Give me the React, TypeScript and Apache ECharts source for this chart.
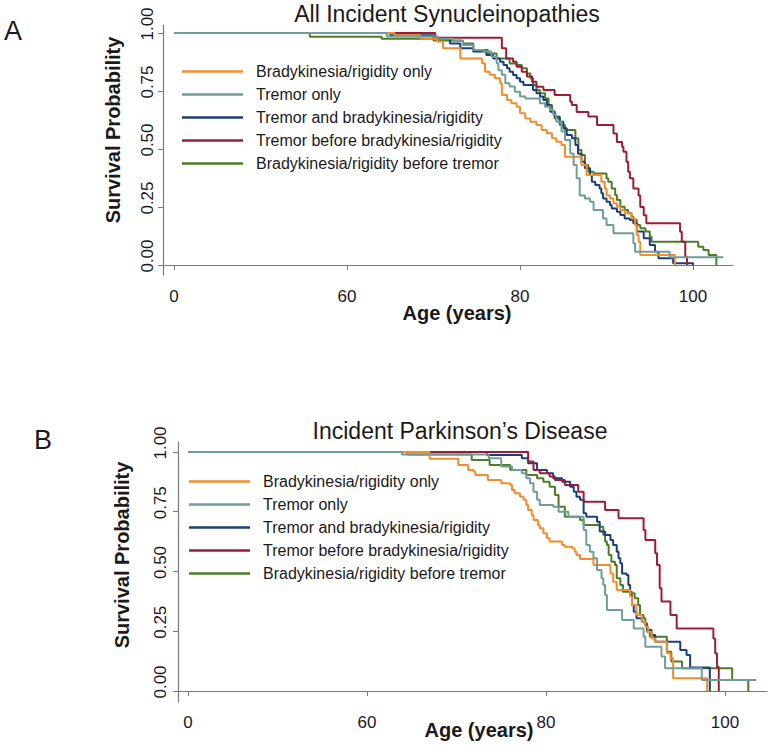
import React, { useEffect, useRef } from "react";
import * as echarts from "echarts";

// ---------- labels ----------
const SERIES_NAMES = [
  "Bradykinesia/rigidity only",
  "Tremor only",
  "Tremor and bradykinesia/rigidity",
  "Tremor before bradykinesia/rigidity",
  "Bradykinesia/rigidity before tremor",
];
const COLORS = ["#F28E2B", "#6F9E98", "#1C3F7C", "#9B1D36", "#4E7D27"];
const DRAW_ORDER = [4, 5, 2, 3, 1]; // z per series (teal on top, as in the original)
const TITLE_A = "All Incident Synucleinopathies";
const TITLE_B = "Incident Parkinson\u2019s Disease";
const X_NAME = "Age (years)";
const Y_NAME = "Survival Probability";

// ---------- ticks ----------
const X_TICKS = [0, 60, 80, 100];
const Y_TICKS = [0, 0.25, 0.5, 0.75, 1];
// the axis is broken: the "0" tick stands where 40 would be on a continuous scale
const AXIS_ORIGIN = 40;

// ---------- Panel A: All incident synucleinopathies  [age, survival] ----------
const A_BR_ONLY = [[0,1],[65.5,0.99],[68.5,0.975],[70.4,0.963],[71.1,0.934],[73.1,0.89],[75.6,0.87],[75.95,0.833],[76.5,0.82],[77.1,0.805],[77.7,0.783],[77.9,0.733],[78.5,0.711],[79.0,0.697],[79.6,0.682],[80.0,0.654],[80.6,0.632],[81.2,0.618],[81.9,0.603],[82.5,0.582],[83.1,0.568],[83.7,0.546],[84.2,0.531],[84.8,0.517],[85.2,0.467],[87.1,0.431],[87.7,0.388],[89.4,0.359],[89.8,0.33],[90.0,0.30],[90.4,0.287],[90.8,0.266],[91.2,0.251],[91.6,0.237],[92.1,0.223],[92.9,0.201],[93.3,0.172],[93.5,0.129],[93.7,0.10],[93.9,0.043],[97.9,0]];
const A_TREMOR_ONLY = [[0,1],[64.6,0.985],[70.5,0.975],[72.3,0.966],[73.4,0.948],[74.6,0.927],[75.8,0.92],[76.7,0.898],[77.3,0.87],[77.5,0.84],[77.9,0.82],[78.3,0.783],[78.8,0.769],[79.4,0.747],[80.0,0.726],[80.6,0.718],[82.3,0.697],[82.9,0.682],[83.5,0.668],[83.85,0.647],[84.2,0.618],[84.8,0.575],[85.2,0.539],[85.8,0.481],[86.2,0.431],[86.55,0.374],[86.9,0.30],[87.5,0.287],[88.1,0.273],[88.5,0.237],[89.6,0.201],[90.0,0.172],[90.8,0.137],[93.1,0.094],[93.3,0.057],[97.3,0.033],[103.5,0.033]];
const A_TREMOR_AND = [[0,1],[65,0.99],[70,0.975],[71.9,0.955],[73.1,0.934],[74.6,0.92],[76.1,0.905],[76.9,0.89],[77.7,0.876],[78.1,0.862],[78.5,0.848],[78.8,0.833],[79.2,0.819],[79.6,0.805],[80.0,0.79],[80.4,0.776],[81.5,0.754],[81.9,0.74],[82.3,0.726],[82.7,0.711],[83.1,0.69],[83.5,0.661],[84.0,0.639],[84.6,0.618],[85.0,0.589],[85.4,0.56],[86.0,0.546],[86.4,0.517],[86.7,0.48],[87.1,0.445],[87.5,0.417],[88.1,0.388],[88.3,0.359],[88.7,0.345],[89.2,0.33],[89.4,0.309],[89.6,0.287],[90.0,0.273],[90.4,0.259],[90.6,0.244],[91.2,0.23],[91.6,0.216],[92.1,0.201],[92.7,0.194],[93.1,0.18],[93.5,0.144],[94.3,0.115],[95.0,0.086],[95.6,0.057],[96.0,0.029],[97.7,0.008],[100.0,0]];
const A_TREMOR_BEFORE = [[0,1],[70.2,0.98],[77.9,0.934],[78.4,0.89],[79.2,0.876],[79.6,0.855],[80.2,0.833],[80.8,0.812],[81.4,0.79],[81.9,0.768],[82.7,0.754],[84.0,0.733],[85.8,0.704],[86.0,0.69],[86.55,0.66],[87.9,0.64],[88.9,0.603],[90.8,0.567],[91.2,0.53],[91.8,0.51],[91.95,0.488],[92.3,0.445],[92.5,0.402],[92.7,0.374],[93.1,0.33],[93.7,0.30],[93.9,0.25],[94.3,0.215],[94.6,0.18],[98.5,0.143],[98.7,0.10],[99.1,0.036],[99.3,0]];
const A_BR_BEFORE = [[0,1],[55.7,0.984],[64,0.975],[70,0.968],[73.4,0.955],[74.6,0.927],[76.3,0.912],[77.3,0.89],[78.8,0.869],[79.6,0.862],[80.2,0.848],[80.8,0.826],[81.2,0.805],[81.5,0.776],[81.9,0.754],[82.3,0.74],[82.9,0.718],[83.3,0.69],[83.7,0.661],[84.0,0.632],[84.6,0.603],[85.2,0.582],[86.4,0.546],[86.75,0.496],[87.1,0.474],[87.5,0.431],[87.9,0.402],[88.5,0.395],[90.0,0.374],[90.2,0.359],[90.6,0.33],[91.0,0.302],[91.2,0.28],[91.6,0.251],[92.1,0.237],[92.5,0.223],[92.9,0.208],[93.1,0.194],[93.5,0.172],[93.9,0.158],[94.5,0.144],[95.0,0.122],[95.2,0.10],[100.6,0.079],[101.2,0.065],[101.8,0.043],[102.7,0]];

// ---------- Panel B: Incident Parkinson's disease  [age, survival] ----------
const B_BR_ONLY = [[0,1],[67.0,0.972],[70.2,0.946],[71.3,0.925],[71.9,0.918],[72.1,0.904],[73.5,0.883],[75.0,0.869],[76.0,0.862],[76.2,0.841],[76.5,0.827],[77.1,0.813],[77.5,0.80],[77.8,0.778],[78.0,0.757],[78.4,0.736],[78.6,0.715],[79.1,0.695],[79.3,0.681],[79.7,0.66],[80.1,0.639],[80.4,0.625],[81.8,0.611],[82.1,0.604],[82.9,0.597],[83.2,0.583],[83.4,0.569],[83.8,0.552],[85.3,0.527],[87.2,0.492],[87.5,0.457],[87.9,0.423],[89.4,0.395],[89.6,0.36],[90.1,0.318],[90.7,0.29],[91.1,0.269],[91.4,0.248],[91.8,0.22],[92.2,0.206],[93.5,0.158],[93.9,0.137],[94.2,0.053],[98.0,0]];
const B_TREMOR_ONLY = [[0,1],[63.9,0.99],[73.6,0.974],[75.0,0.939],[76.2,0.925],[77.3,0.911],[77.8,0.89],[78.2,0.869],[78.6,0.834],[79.0,0.80],[79.3,0.778],[80.8,0.771],[81.4,0.75],[82.5,0.729],[84.2,0.674],[84.5,0.611],[84.9,0.583],[85.3,0.555],[85.7,0.506],[86.2,0.472],[86.4,0.444],[86.6,0.402],[86.8,0.339],[88.5,0.297],[89.8,0.262],[90.9,0.227],[91.1,0.185],[92.9,0.144],[93.3,0.095],[97.4,0.046],[103.5,0.046]];
const B_TREMOR_AND = [[0,1],[73.4,0.987],[77.3,0.974],[78.0,0.953],[79.0,0.925],[80.1,0.911],[80.8,0.89],[81.8,0.876],[82.7,0.855],[83.1,0.834],[83.4,0.813],[83.8,0.80],[84.2,0.744],[84.5,0.729],[85.7,0.708],[86.0,0.667],[86.6,0.653],[87.2,0.632],[87.5,0.611],[87.9,0.583],[88.1,0.555],[88.3,0.534],[88.5,0.492],[89.0,0.485],[89.2,0.444],[89.4,0.402],[89.6,0.36],[89.8,0.332],[90.1,0.304],[90.7,0.29],[91.1,0.276],[91.3,0.255],[91.8,0.234],[92.2,0.206],[95.0,0.172],[95.7,0.151],[96.1,0.098],[98.3,0]];
const B_TREMOR_BEFORE = [[0,1],[78.0,0.96],[78.6,0.925],[79.3,0.911],[80.4,0.897],[81.0,0.883],[82.1,0.862],[83.6,0.834],[84.2,0.792],[86.6,0.757],[88.1,0.723],[90.9,0.674],[91.1,0.632],[92.2,0.576],[92.4,0.527],[92.7,0.43],[92.9,0.374],[93.9,0.318],[94.6,0.262],[98.7,0.22],[98.9,0.158],[99.1,0.10],[99.3,0]];
const B_BR_BEFORE = [[0,1],[64.5,0.99],[71.7,0.967],[73.7,0.946],[76.0,0.925],[77.8,0.904],[79.0,0.89],[79.7,0.876],[80.4,0.855],[81.0,0.82],[81.4,0.771],[82.1,0.729],[83.8,0.715],[84.2,0.695],[86.0,0.687],[86.4,0.653],[86.6,0.625],[86.8,0.611],[87.0,0.569],[87.3,0.541],[87.7,0.527],[87.9,0.472],[88.3,0.444],[88.6,0.415],[89.6,0.409],[89.9,0.388],[90.3,0.36],[90.5,0.318],[90.9,0.304],[91.1,0.283],[91.3,0.248],[91.6,0.227],[93.5,0.164],[94.0,0.123],[95.2,0.095],[100.8,0.046],[102.6,0]];

const PANEL_A = [A_BR_ONLY, A_TREMOR_ONLY, A_TREMOR_AND, A_TREMOR_BEFORE, A_BR_BEFORE];
const PANEL_B = [B_BR_ONLY, B_TREMOR_ONLY, B_TREMOR_AND, B_TREMOR_BEFORE, B_BR_BEFORE];

const FONT = "'Liberation Sans', Arial, Helvetica, sans-serif";
const TEXT = "#1a1a1a";
const AXIS = "#7a7a7a";

const toPlot = (a: number) => (a === 0 ? AXIS_ORIGIN : a);
const xTickPositions = X_TICKS.map(toPlot);

function xAxisFor(gridIndex: number, min: number, max: number, margin: number) {
  return {
    type: "value",
    gridIndex,
    min,
    max,
    axisLine: { show: true, lineStyle: { color: AXIS, width: 1.2 } },
    axisTick: { show: true, length: 5, customValues: xTickPositions, lineStyle: { color: AXIS } },
    axisLabel: {
      customValues: xTickPositions,
      margin,
      fontSize: 17,
      fontFamily: FONT,
      color: TEXT,
      formatter: (v: number) => String(X_TICKS[xTickPositions.indexOf(v)] ?? v),
    },
    splitLine: { show: false },
  };
}

function yAxisFor(gridIndex: number, min: number, max: number, margin: number) {
  return {
    type: "value",
    gridIndex,
    min,
    max,
    axisLine: { show: true, lineStyle: { color: AXIS, width: 1.2 } },
    axisTick: { show: true, length: 5, customValues: Y_TICKS, lineStyle: { color: AXIS } },
    axisLabel: {
      customValues: Y_TICKS,
      rotate: 90,
      margin,
      fontSize: 17,
      fontFamily: FONT,
      color: TEXT,
      padding: [0, 0, 0, 18],
      formatter: (v: number) => v.toFixed(2),
    },
    splitLine: { show: false },
  };
}

function legendFor(left: number, top: number) {
  return {
    show: true,
    orient: "vertical",
    left,
    top,
    data: SERIES_NAMES,
    icon: "rect",
    itemWidth: 61,
    itemHeight: 2.5,
    itemGap: 6,
    selectedMode: false,
    textStyle: { fontSize: 16, fontFamily: FONT, color: TEXT, lineHeight: 17, padding: [0, 0, 0, 8] },
  };
}

export default function App() {
  const ref = useRef<HTMLDivElement>(null);
  useEffect(() => {
    if (!ref.current) return;
    const chart = echarts.init(ref.current, undefined, { renderer: "svg" });
    const series: any[] = [];
    [PANEL_A, PANEL_B].forEach((panel, pi) => {
      panel.forEach((pts, si) => {
        series.push({
          name: SERIES_NAMES[si],
          type: "line",
          step: "end",
          xAxisIndex: pi,
          yAxisIndex: pi,
          showSymbol: false,
          symbol: "none",
          data: pts.map(([a, s]) => [toPlot(a), s]),
          lineStyle: { color: COLORS[si], width: 2 },
          itemStyle: { color: COLORS[si] },
          z: 2 + DRAW_ORDER[si],
        });
      });
    });

    const bold = { fontSize: 20, fontWeight: "bold", fontFamily: FONT, fill: TEXT, align: "center", verticalAlign: "middle" };
    const title = { fontSize: 23, fontFamily: FONT, fill: TEXT, align: "center", verticalAlign: "middle" };

    const option: any = {
      animation: false,
      backgroundColor: "#ffffff",
      grid: [
        { left: 163, top: 25, width: 570, height: 250 },
        { left: 178, top: 442, width: 589, height: 260 },
      ],
      xAxis: [xAxisFor(0, 38.73, 104.62, 13), xAxisFor(1, 38.88, 104.69, 12)],
      yAxis: [yAxisFor(0, -0.043, 1.0345, 7), yAxisFor(1, -0.046, 1.0418, 9)],
      legend: [legendFor(177, 58), legendFor(184, 468)],
      series,
      graphic: [
        { type: "text", left: 4, top: 17, style: { text: "A", fontSize: 27, fontFamily: FONT, fill: TEXT } },
        { type: "text", left: 34, top: 426, style: { text: "B", fontSize: 27, fontFamily: FONT, fill: TEXT } },
        { type: "text", x: 447, y: 14, style: { ...title, text: TITLE_A } },
        { type: "text", x: 460, y: 431, style: { ...title, text: TITLE_B } },
        { type: "text", x: 113, y: 130, rotation: Math.PI / 2, style: { ...bold, text: Y_NAME } },
        { type: "text", x: 122, y: 555, rotation: Math.PI / 2, style: { ...bold, text: Y_NAME } },
        { type: "text", x: 457, y: 313, style: { ...bold, text: X_NAME } },
        { type: "text", x: 479, y: 730, style: { ...bold, text: X_NAME } },
      ],
    };
    chart.setOption(option);
    return () => chart.dispose();
  }, []);
  return (
    <div
      ref={ref}
      style={{ position: "absolute", left: 0, top: 0, width: 772, height: 753, background: "#fff" }}
    />
  );
}
